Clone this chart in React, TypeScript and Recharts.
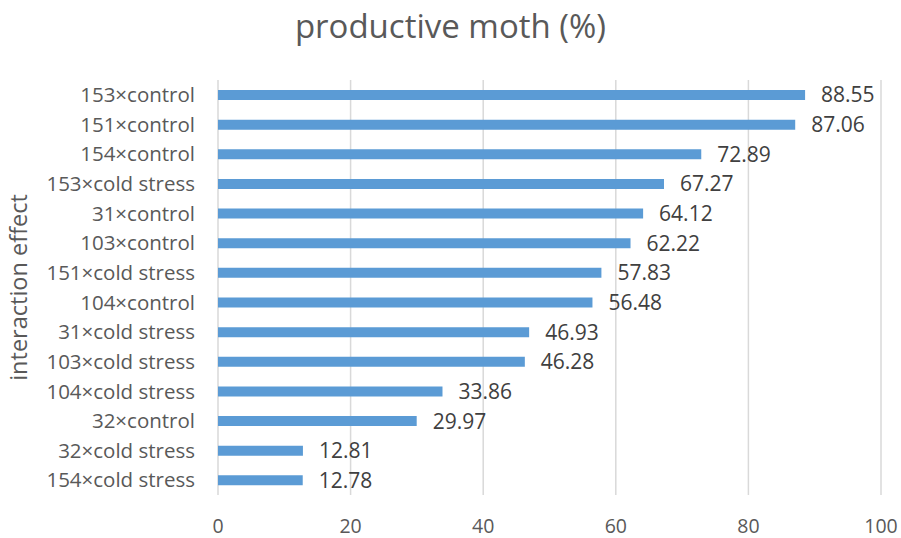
import React from 'react';
import { BarChart, Bar, XAxis, YAxis, CartesianGrid, LabelList } from 'recharts';

const categories = [
  '153×control',
  '151×control',
  '154×control',
  '153×cold stress',
  '31×control',
  '103×control',
  '151×cold stress',
  '104×control',
  '31×cold stress',
  '103×cold stress',
  '104×cold stress',
  '32×control',
  '32×cold stress',
  '154×cold stress',
];

const values = [88.55, 87.06, 72.89, 67.27, 64.12, 62.22, 57.83, 56.48, 46.93, 46.28, 33.86, 29.97, 12.81, 12.78];

const xTicks = [0, 20, 40, 60, 80, 100];

const data = categories.map((name, i) => ({ name, value: values[i] }));

const font = '"Open Sans", sans-serif';

export default function App() {
  return (
    <div style={{ position: 'absolute', left: 0, top: 0, width: 901, height: 538, background: '#fff', fontFamily: font }}>
      <div
        style={{
          position: 'absolute',
          top: 3,
          width: 901,
          textAlign: 'center',
          fontSize: 33,
          lineHeight: '45px',
          color: '#595959',
        }}
      >
        productive moth (%)
      </div>
      <BarChart
        width={901}
        height={538}
        data={data}
        layout="vertical"
        margin={{ top: 80, right: 20, bottom: 0, left: 0 }}
        barCategoryGap={0}
      >
        <CartesianGrid horizontal={false} stroke="#d9d9d9" strokeWidth={1.5} />
        <XAxis
          type="number"
          domain={[0, 100]}
          ticks={xTicks}
          axisLine={false}
          tickLine={false}
          height={43}
          tick={{ fill: '#595959', fontSize: 19.5, fontFamily: font, dy: 16 }}
        />
        <YAxis
          type="category"
          dataKey="name"
          width={218}
          axisLine={false}
          tickLine={false}
          interval={0}
          tickMargin={17}
          tick={{ fill: '#595959', fontSize: 20.5, fontFamily: font }}
          label={{
            value: 'interaction effect',
            angle: -90,
            position: 'insideLeft',
            offset: 19,
            style: { fill: '#595959', fontSize: 23.5, fontFamily: font, textAnchor: 'middle' },
          }}
        />
        <Bar dataKey="value" fill="#5b9bd5" barSize={10} isAnimationActive={false}>
          <LabelList
            dataKey="value"
            position="right"
            offset={16}
            formatter={(v: number) => v.toFixed(2)}
            style={{ fill: '#404040', fontSize: 21, fontFamily: font }}
          />
        </Bar>
      </BarChart>
    </div>
  );
}
